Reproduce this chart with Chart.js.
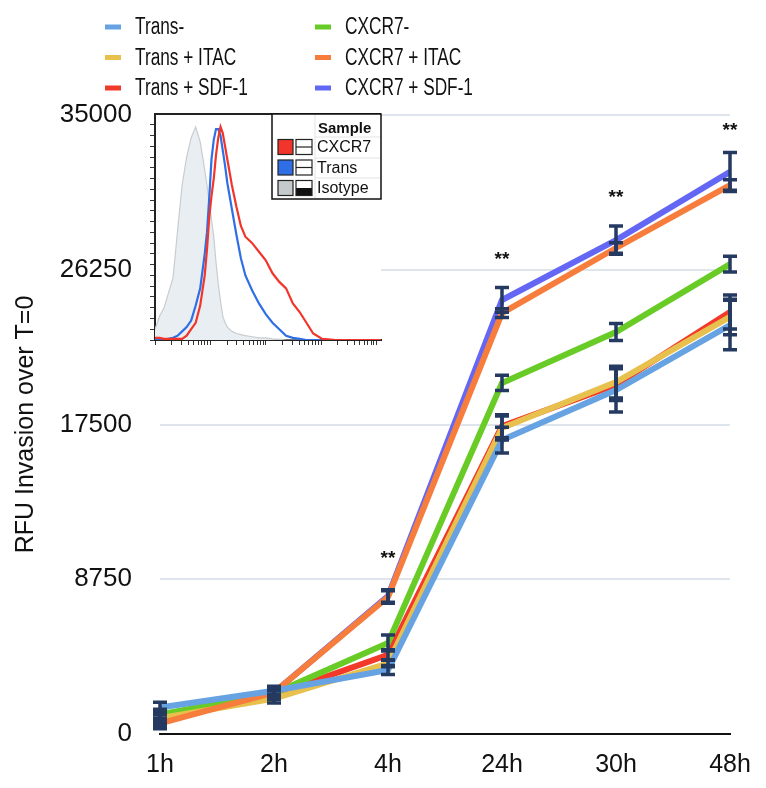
<!DOCTYPE html>
<html>
<head>
<meta charset="utf-8">
<script src="https://cdn.jsdelivr.net/npm/chart.js@4.4.1/dist/chart.umd.min.js"></script>
<style>
  html, body { margin: 0; padding: 0; background: #fff; }
  #wrap { position: relative; width: 766px; height: 788px; }
  #mainChart { position: absolute; left: 0; top: 0; }
  #insetChart { position: absolute; left: 145px; top: 110px; }
</style>
</head>
<body>
<div id="wrap">
  <canvas id="mainChart" width="766" height="788"></canvas>
  <canvas id="insetChart" width="240" height="236"></canvas>
</div>
<script>
// --- main chart data ---
const horas = ['1h', '2h', '4h', '24h', '30h', '48h'];
const yTicks = [0, 8750, 17500, 26250, 35000];

const transNeg  = [1500, 2450, 3620, 16620, 19450, 23120];
const transItac = [900, 2000, 4000, 17300, 19900, 23580];
const transSdf  = [1000, 2200, 4470, 17400, 19750, 23860];
const cxcrNeg   = [1100, 2300, 5150, 19850, 22730, 26570];
const cxcrItac  = [600, 2350, 7750, 23800, 27480, 31040];
const cxcrSdf   = [800, 2350, 7800, 24540, 27930, 31780];

const transNegErr  = [300, 250, 250, 730, 1250, 1400];
const transItacErr = [300, 250, 200, 680, 900, 1000];
const transSdfErr  = [300, 250, 300, 650, 900, 960];
const cxcrNegErr   = [300, 250, 450, 430, 480, 450];
const cxcrItacErr  = [300, 250, 350, 250, 300, 300];
const cxcrSdfErr   = [300, 250, 350, 700, 800, 1100];

const sigMarks = ['', '', '**', '**', '**', '**'];
const sigY = [null, null, 10200, 27100, 30600, 34400];

// --- inset (flow cytometry histogram) data ---
const insetX = [0, 2, 4, 6, 8, 10, 12, 14, 16, 18, 20, 22, 23, 24, 25, 26, 27, 28, 29, 30, 31, 32, 34, 36, 38, 40, 43, 46, 49, 52, 55, 58, 61, 64, 67, 70, 74, 80, 90, 100];
const isotype = [5, 11, 15, 22, 29, 51, 72, 85, 94, 99, 92, 79, 72, 64, 56, 48, 36, 26, 18, 11, 8, 6, 4, 3, 2.5, 2, 1.5, 1, 1, 0.5, 0.3, 0, 0, 0, 0, 0, 0, 0, 0, 0];
const trans   = [0, 0, 0, 0.5, 1, 2, 4, 6, 9, 16, 24, 40, 50, 66, 84, 93, 98, 98, 95, 88, 81, 73, 61, 49, 38, 30, 23, 17, 12, 8, 5, 2, 1, 0.5, 0, 0, 0, 0, 0, 0];
const cxcr7   = [1, 1, 0.5, 0.5, 0.5, 0.5, 0.5, 2, 5, 8, 16, 30, 42, 57, 67, 75, 86, 94, 99, 96, 90, 84, 72, 62, 53, 48, 45, 41, 37, 31, 27, 24, 17, 13, 8, 3, 0.5, 0, 0, 0];
const insetXTicks = [0, 7.4, 11.7, 14.8, 17.1, 19.1, 20.7, 22.1, 23.4, 24.5, 31.9, 36.2, 39.3, 41.6, 43.6, 45.2, 46.6, 47.9, 49, 56.4, 60.7, 63.8, 66.1, 68.1, 69.7, 71.1, 72.4, 73.5, 80.9, 85.2, 88.3, 90.6, 92.6, 94.2, 95.6, 96.9, 98];

const FONT = '"Liberation Sans", Arial, sans-serif';
const NAVY = '#243a61';

const series = [
    { label: 'Trans-',            data: transNeg,  err: transNegErr,  color: '#67a3e2', order: 0 },
    { label: 'Trans + ITAC',      data: transItac, err: transItacErr, color: '#e7c04e', order: 2 },
    { label: 'Trans + SDF-1',     data: transSdf,  err: transSdfErr,  color: '#f3392a', order: 4 },
    { label: 'CXCR7-',            data: cxcrNeg,   err: cxcrNegErr,   color: '#69cc26', order: 3 },
    { label: 'CXCR7 + ITAC',      data: cxcrItac,  err: cxcrItacErr,  color: '#f77d3d', order: 1 },
    { label: 'CXCR7 + SDF-1',     data: cxcrSdf,   err: cxcrSdfErr,   color: '#6467f4', order: 5 }
];

// error bars + significance stars
const errorBarsPlugin = {
    id: 'errorBars',
    afterDatasetsDraw(chart) {
        const { ctx, scales: { x, y } } = chart;
        ctx.save();
        ctx.strokeStyle = NAVY;
        ctx.lineWidth = 3.5;
        series.forEach(s => {
            s.err.forEach((e, i) => {
                const px = x.getPixelForValue(i);
                const top = y.getPixelForValue(s.data[i] + e);
                const bot = y.getPixelForValue(s.data[i] - e);
                ctx.beginPath();
                ctx.moveTo(px, top); ctx.lineTo(px, bot);
                ctx.moveTo(px - 7, top); ctx.lineTo(px + 7, top);
                ctx.moveTo(px - 7, bot); ctx.lineTo(px + 7, bot);
                ctx.stroke();
            });
        });
        ctx.fillStyle = '#111';
        ctx.font = 'bold 19px ' + FONT;
        ctx.textAlign = 'center';
        ctx.textBaseline = 'middle';
        sigMarks.forEach((m, i) => {
            if (!m) return;
            ctx.fillText(m, x.getPixelForValue(i), y.getPixelForValue(sigY[i]) + 5);
        });
        ctx.restore();
    }
};

// two-column legend at the top (narrow type, squeezed horizontally)
const leyendaPlugin = {
    id: 'leyenda',
    afterDraw(chart) {
        const { ctx } = chart;
        ctx.save();
        ctx.textBaseline = 'middle';
        chart.data.datasets.forEach((ds, i) => {
            const col = Math.floor(i / 3), row = i % 3;
            const lx = 105 + col * 210, ly = 27 + row * 30.5;
            ctx.fillStyle = ds.borderColor;
            ctx.fillRect(lx, ly - 2.5, 16, 5);
            ctx.save();
            ctx.translate(lx + 30, ly + 1);
            ctx.scale(0.75, 1);
            ctx.font = '23px ' + FONT;
            ctx.fillStyle = '#111';
            ctx.fillText(ds.label, 0, 0);
            ctx.restore();
        });
        ctx.restore();
    }
};

new Chart(document.getElementById('mainChart'), {
    type: 'line',
    data: {
        labels: horas,
        datasets: series.map(s => ({
            label: s.label,
            data: s.data,
            borderColor: s.color,
            backgroundColor: s.color,
            borderWidth: 6,
            pointRadius: 0,
            tension: 0,
            order: s.order
        }))
    },
    options: {
        responsive: false,
        animation: false,
        layout: { padding: { top: 115, right: 36, left: 0, bottom: 0 } },
        plugins: { legend: { display: false }, tooltip: { enabled: false } },
        scales: {
            x: {
                offset: false,
                grid: { display: false },
                border: { color: '#111', width: 2 },
                ticks: { color: '#111', font: { family: FONT, size: 25 }, padding: 8, maxRotation: 0, autoSkip: false },
                afterFit: s => { s.height = 54; }
            },
            y: {
                min: 0, max: 35000,
                afterBuildTicks: s => { s.ticks = yTicks.map(v => ({ value: v })); },
                ticks: { color: '#111', font: { family: FONT, size: 26 }, padding: 28, callback: v => String(v) },
                grid: { color: '#dfe5ec', lineWidth: 2, drawTicks: false },
                border: { display: false },
                title: { display: true, text: 'RFU Invasion over T=0', color: '#111', font: { family: FONT, size: 25 }, padding: { top: 11 } },
                afterFit: s => { s.width = 160; }
            }
        }
    },
    plugins: [errorBarsPlugin, leyendaPlugin]
});

// --- inset ---
const insetSeries = [
    { label: 'CXCR7',   data: cxcr7,   color: '#f2352b', fill: false },
    { label: 'Trans',   data: trans,   color: '#2f6fe6', fill: false },
    { label: 'Isotype', data: isotype, color: '#c9cccf', fill: true }
];

const insetFondo = {
    id: 'insetFondo',
    beforeDraw(chart) {
        const { ctx, chartArea: a } = chart;
        ctx.save();
        ctx.fillStyle = '#fff';
        ctx.fillRect(a.left, a.top, a.right - a.left, a.bottom - a.top);
        ctx.restore();
    },
    afterDraw(chart) {
        const { ctx, chartArea: a } = chart;
        ctx.save();
        ctx.strokeStyle = '#222';
        ctx.lineWidth = 2;
        ctx.beginPath();
        ctx.moveTo(a.left - 1, a.top); ctx.lineTo(a.right, a.top);
        ctx.stroke();

        // sample legend box
        const bx = 127, by = 4, bw = 109, bh = 85;
        ctx.fillStyle = '#fff';
        ctx.fillRect(bx, by, bw, bh);
        ctx.strokeStyle = '#e3e3e3';
        ctx.lineWidth = 1;
        [27, 48, 68].forEach(ly => {
            ctx.beginPath(); ctx.moveTo(170, ly); ctx.lineTo(bx + bw, ly); ctx.stroke();
        });
        ctx.beginPath(); ctx.moveTo(170, by); ctx.lineTo(170, by + bh); ctx.stroke();
        ctx.strokeStyle = '#111';
        ctx.lineWidth = 1.5;
        ctx.strokeRect(bx, by, bw, bh);

        ctx.fillStyle = '#111';
        ctx.font = 'bold 15px ' + FONT;
        ctx.textBaseline = 'middle';
        ctx.fillText('Sample', 173, 19);
        ctx.font = '16px ' + FONT;
        chart.data.datasets.forEach((ds, i) => {
            const ry = 37 + i * 20.5;
            ctx.fillStyle = ds.legendColor;
            ctx.fillRect(133, ry - 7.5, 15, 15);
            ctx.strokeStyle = '#222';
            ctx.lineWidth = 1.2;
            ctx.strokeRect(133, ry - 7.5, 15, 15);
            ctx.fillStyle = '#fff';
            ctx.fillRect(151, ry - 7.5, 16, 15);
            ctx.fillStyle = '#111';
            if (i === 2) {
                ctx.fillRect(151, ry, 16, 7.5);
            } else {
                ctx.beginPath(); ctx.moveTo(151, ry); ctx.lineTo(167, ry); ctx.stroke();
            }
            ctx.strokeRect(151, ry - 7.5, 16, 15);
            ctx.fillText(ds.label, 172, ry + 1);
        });
        ctx.restore();
    }
};

new Chart(document.getElementById('insetChart'), {
    type: 'line',
    data: {
        datasets: insetSeries.map(s => ({
            label: s.label,
            data: insetX.map((xv, i) => ({ x: xv, y: s.data[i] })),
            borderColor: s.color,
            borderWidth: s.fill ? 1.2 : 2.2,
            backgroundColor: s.fill ? '#e9eef2' : s.color,
            legendColor: s.fill ? '#c4c9cc' : s.color,
            fill: s.fill ? 'origin' : false,
            pointRadius: 0,
            tension: 0
        }))
    },
    options: {
        responsive: false,
        animation: false,
        layout: { padding: { top: 4, right: 4, left: 0, bottom: 0 } },
        plugins: { legend: { display: false }, tooltip: { enabled: false } },
        scales: {
            x: {
                type: 'linear', min: 0, max: 100,
                afterBuildTicks: s => { s.ticks = insetXTicks.map(v => ({ value: v })); },
                ticks: { display: false, autoSkip: false },
                grid: { drawOnChartArea: false, tickLength: 5, color: '#333', lineWidth: 1 },
                border: { color: '#222', width: 2 },
                afterFit: s => { s.height = 6; }
            },
            y: {
                min: 0, max: 105,
                afterBuildTicks: s => { s.ticks = [0, 5, 10, 15, 20, 25, 30, 35, 40, 45, 50, 55, 60, 65, 70, 75, 80, 85, 90, 95, 100].map(v => ({ value: v })); },
                ticks: { display: false, autoSkip: false },
                grid: { drawOnChartArea: false, tickLength: 5, color: '#333', lineWidth: 1 },
                border: { color: '#222', width: 2 },
                afterFit: s => { s.width = 10; }
            }
        }
    },
    plugins: [insetFondo]
});
</script>
</body>
</html>
